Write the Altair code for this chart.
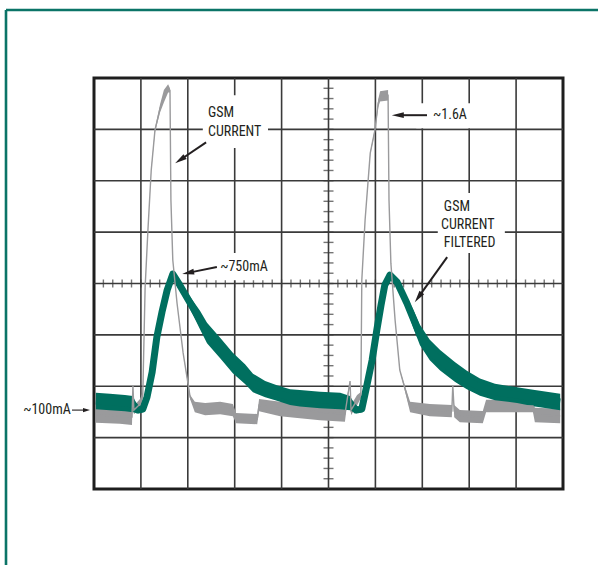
import math
import altair as alt
import pandas as pd

# ---------------- data (time in ms, 1 ms/div; current in mA, 250 mA/div) -------------
# filtered GSM current (green trace): centre value and half-width of the noise envelope
green_t = [0.04, 0.34, 0.66, 0.83, 0.94, 1.04, 1.13, 1.24, 1.34, 1.45, 1.56, 1.68, 1.83,
           2.05, 2.26, 2.41, 2.69, 2.96, 3.22, 3.39, 3.65, 3.90, 4.18, 4.39, 4.82, 5.25,
           5.46, 5.59, 5.71, 5.82, 5.93, 6.03, 6.12, 6.20, 6.31, 6.46, 6.67, 6.82, 6.95,
           7.16, 7.38, 7.70, 7.95, 8.23, 8.55, 9.02, 9.40, 9.94]
green_ma = [148, 143, 138, 133, 104, 109, 167, 289, 459, 581, 688, 766, 712,
            625, 542, 479, 406, 333, 279, 236, 206, 187, 167, 162, 153, 148,
            138, 104, 109, 226, 347, 493, 615, 712, 761, 727, 625, 542, 469,
            396, 347, 289, 250, 216, 192, 177, 162, 143]
green_noise = [40, 40, 40, 40, 15, 15, 10, 5, 5, 5, 5, 5, 15,
               30, 45, 50, 50, 50, 48, 45, 40, 38, 38, 40, 40, 40,
               35, 15, 15, 5, 5, 5, 5, 5, 5, 15, 30, 45, 50,
               50, 50, 48, 45, 42, 40, 38, 40, 40]

# raw GSM current (grey trace)
gray_t = [0.04, 0.55, 0.81, 0.83, 0.85, 0.98, 1.04, 1.09, 1.15, 1.22, 1.30, 1.41, 1.49,
          1.58, 1.62, 1.64, 1.68, 1.77, 1.90, 2.05, 2.15, 2.37, 2.69, 2.96, 3.03, 3.48,
          3.52, 3.97, 4.39, 4.82, 5.35, 5.46, 5.48, 5.61, 5.69, 5.71, 5.78, 5.89, 5.99,
          6.06, 6.10, 6.27, 6.29, 6.33, 6.42, 6.52, 6.74, 7.16, 7.63, 7.65, 7.68, 7.80,
          8.29, 8.36, 9.36, 9.40, 9.94]
gray_ma = [80, 75, 70, 226, 104, 133, 177, 702, 980, 1271, 1466, 1573, 1631,
           1670, 1660, 1126, 834, 625, 382, 167, 119, 109, 114, 104, 65, 60,
           128, 109, 104, 94, 85, 245, 104, 153, 177, 736, 1028, 1354, 1466,
           1597, 1631, 1636, 1126, 819, 542, 299, 119, 104, 99, 226, 99, 75,
           70, 124, 124, 80, 75]
gray_noise = [38, 38, 38, 0, 20, 25, 15, 0, 0, 5, 10, 20, 30,
              20, 10, 0, 0, 0, 0, 10, 25, 30, 30, 30, 25, 25,
              30, 35, 40, 40, 38, 0, 25, 25, 15, 0, 0, 5, 10,
              20, 25, 25, 0, 0, 0, 0, 25, 30, 30, 0, 30, 30,
              30, 30, 30, 35, 35]

# annotations (anchor in ms / mA)
label_text = ["GSM", "CURRENT", "~750mA", "~1.6A", "GSM", "CURRENT", "FILTERED", "~100mA"]
label_t = [2.43, 2.43, 2.69, 7.23, 7.46, 7.40, 7.46, -1.51]
label_ma = [1549, 1456, 800, 1539, 1091, 1004, 916, 104]

box_t1 = [2.32, 2.58, 6.87, 7.33]
box_t2 = [3.71, 3.75, 8.02, 8.76]
box_ma1 = [1379, 736, 1475, 868]
box_ma2 = [1636, 868, 1597, 1160]

arrow_tail_t = [2.39, 2.62, 7.10, 7.53]
arrow_tail_ma = [1407, 800, 1539, 848]
arrow_head_t = [1.73, 1.88, 6.35, 6.84]
arrow_head_ma = [1305, 766, 1539, 629]

small_arrow_tail = (-0.47, 104)
small_arrow_head = (-0.085, 104)

# ---------------- layout ----------------
W, H = 469, 411
T0, T1 = 0.0, 10.0
I0, I1 = -280.0, 1720.0
PX_T = W / (T1 - T0)
PX_I = H / (I1 - I0)

TEAL = "#006f5f"
GREY = "#9a9a9c"
INK = "#231f20"
GRID = "#3a3a3a"
FONT = "Liberation Sans Narrow, Roboto Condensed, DejaVu Sans Condensed, Arial Narrow, sans-serif"

xs = alt.Scale(domain=[T0, T1], nice=False, zero=False)
ys = alt.Scale(domain=[I0, I1], nice=False, zero=False)


def X(f="t"):
    return alt.X(f, type="quantitative", scale=xs, axis=None)


def Y(f="ma"):
    return alt.Y(f, type="quantitative", scale=ys, axis=None)


layers = []

# grid
vgrid = pd.DataFrame({"t": [float(k) for k in range(1, 10)]})
hgrid = pd.DataFrame({"ma": [I0 + 250 * k for k in range(1, 8)]})
layers.append(alt.Chart(vgrid).mark_rule(color=GRID, strokeWidth=1.6).encode(
    x=X(), y=alt.value(0), y2=alt.value(H)))
layers.append(alt.Chart(hgrid).mark_rule(color=GRID, strokeWidth=1.6).encode(
    y=Y(), x=alt.value(0), x2=alt.value(W)))

# centre graticule ticks
tc = (T0 + T1) / 2
ic = (I0 + I1) / 2
hticks = pd.DataFrame({"t": [round(0.2 * k, 2) for k in range(1, 50)]})
vticks = pd.DataFrame({"ma": [I0 + 50 * k for k in range(1, 40)]})
layers.append(alt.Chart(hticks).mark_tick(orient="vertical", size=8, thickness=1.4, color=GRID).encode(
    x=X(), y=alt.YDatum(ic, scale=ys, axis=None)))
layers.append(alt.Chart(vticks).mark_tick(orient="horizontal", size=10, thickness=1.4, color=GRID).encode(
    y=Y(), x=alt.XDatum(tc, scale=xs, axis=None)))

# white label boxes
boxes = pd.DataFrame({"t1": box_t1, "t2": box_t2, "m1": box_ma1, "m2": box_ma2})
layers.append(alt.Chart(boxes).mark_rect(fill="white").encode(
    x=X("t1"), x2="t2", y=Y("m1"), y2="m2"))

# grey trace envelope
gdf = pd.DataFrame({"t": gray_t, "ma": gray_ma, "n": gray_noise})
gdf["lo"] = gdf["ma"] - gdf["n"]
gdf["hi"] = gdf["ma"] + gdf["n"]
layers.append(alt.Chart(gdf).mark_area(color=GREY, opacity=1).encode(
    x=X(), y=Y("lo"), y2="hi"))

# green trace
tdf = pd.DataFrame({"t": green_t, "ma": green_ma, "n": green_noise})
tdf["lo"] = tdf["ma"] - tdf["n"]
tdf["hi"] = tdf["ma"] + tdf["n"]
layers.append(alt.Chart(tdf).mark_area(color=TEAL, opacity=1).encode(
    x=X(), y=Y("lo"), y2="hi"))
layers.append(alt.Chart(tdf).mark_line(color=TEAL, strokeWidth=7, strokeJoin="round").encode(
    x=X(), y=Y()))

# grey trace centre line
layers.append(alt.Chart(gdf).mark_line(color=GREY, strokeWidth=1.4).encode(
    x=X(), y=Y()))


# arrows
def arrow_rows(tails, heads, head_len):
    rows = []
    for (tt, tm), (ht, hm) in zip(tails, heads):
        dx = (ht - tt) * PX_T
        dy = -(hm - tm) * PX_I
        d = math.hypot(dx, dy)
        ang = math.degrees(math.atan2(dx, -dy)) % 360
        back = head_len * 0.6
        et = ht - (dx / d) * back / PX_T
        em = hm + (dy / d) * back / PX_I
        rows.append({"t": tt, "ma": tm, "t2": et, "ma2": em, "ht": ht, "hm": hm, "ang": ang})
    return pd.DataFrame(rows)


big = arrow_rows(list(zip(arrow_tail_t, arrow_tail_ma)), list(zip(arrow_head_t, arrow_head_ma)), 12)
small = arrow_rows([small_arrow_tail], [small_arrow_head], 7)
HEAD = "M0,0 L0.24,1 L-0.24,1 Z"

layers.append(alt.Chart(big).mark_rule(color=INK, strokeWidth=2).encode(
    x=X(), y=Y(), x2="t2", y2="ma2"))
layers.append(alt.Chart(big).mark_point(shape=HEAD, filled=True, color=INK, size=576, opacity=1).encode(
    x=X("ht"), y=Y("hm"), angle=alt.Angle("ang", type="quantitative", scale=None)))
layers.append(alt.Chart(small).mark_rule(color=INK, strokeWidth=1.1).encode(
    x=X(), y=Y(), x2="t2", y2="ma2"))
layers.append(alt.Chart(small).mark_point(shape="M0,0 L0.3,1 L-0.3,1 Z", filled=True, color=INK,
                                          size=196, opacity=1).encode(
    x=X("ht"), y=Y("hm"), angle=alt.Angle("ang", type="quantitative", scale=None)))

# labels
ldf = pd.DataFrame({"t": label_t, "ma": label_ma, "label": label_text})
layers.append(alt.Chart(ldf).mark_text(align="left", baseline="middle", font=FONT, fontSize=14,
                                       color=INK).encode(
    x=X(), y=Y(), text="label:N"))

# teal page frame (left and top edges)
LEFT, TOP = 94, 78
frame = pd.DataFrame({"k": [0]})
layers.append(alt.Chart(frame).mark_rule(color="#0b7467", strokeWidth=2.6).encode(
    x=alt.value(6 - LEFT), x2=alt.value(598 - LEFT), y=alt.value(10 - TOP)))
layers.append(alt.Chart(frame).mark_rule(color="#0b7467", strokeWidth=2.6).encode(
    x=alt.value(6 - LEFT), y=alt.value(10 - TOP), y2=alt.value(565 - TOP)))

chart = alt.layer(*layers).properties(
    width=W, height=H,
    autosize=alt.AutoSizeParams(type="none"),
    padding={"left": LEFT, "top": TOP, "right": 598 - LEFT - W, "bottom": 565 - TOP - H},
    background="white",
).configure_view(stroke="#1e1e1e", strokeWidth=3)

chart.save("out.html", embed_options={"renderer": "svg", "actions": False})
